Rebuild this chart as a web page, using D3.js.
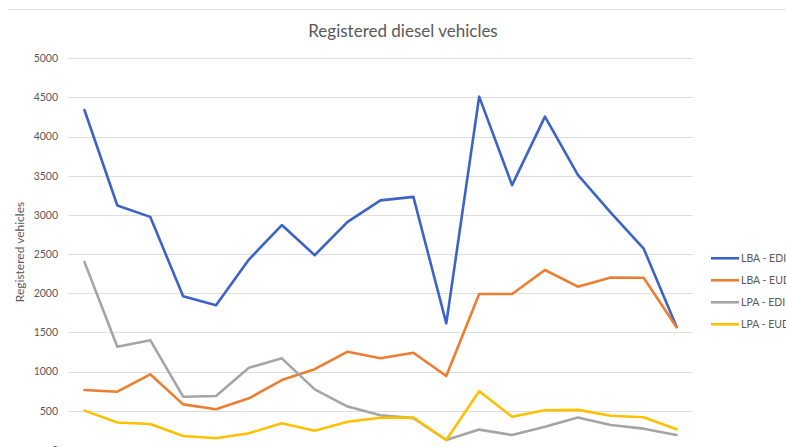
<!DOCTYPE html>
<html>
<head>
<meta charset="utf-8">
<script src="https://cdn.jsdelivr.net/npm/d3@7"></script>
<style>
  html, body { margin: 0; padding: 0; background: #ffffff; overflow: hidden; }
  svg { display: block; }
  text { font-family: Lato, "Open Sans", sans-serif; }
</style>
</head>
<body>
<svg id="chart" width="786" height="447"></svg>
<script>
const categories = ["1","2","3","4","5","6","7","8","9","10","11","12","13","14","15","16","17","18","19"];
const seriesNames = ["LBA - EDI", "LBA - EUD", "LPA - EDI", "LPA - EUD"];
const lbaEdi = [4340, 3120, 2975, 1960, 1845, 2430, 2870, 2485, 2910, 3185, 3230, 1615, 4510, 3380, 4255, 3510, 3030, 2570, 1570];
const lbaEud = [763, 742, 964, 580, 517, 657, 891, 1030, 1253, 1170, 1240, 942, 1989, 1989, 2296, 2083, 2200, 2198, 1565];
const lpaEdi = [2400, 1315, 1400, 678, 687, 1048, 1168, 772, 552, 440, 405, 125, 258, 189, 295, 413, 317, 270, 189];
const lpaEud = [500, 349, 329, 176, 147, 211, 338, 242, 359, 410, 412, 125, 748, 423, 505, 510, 434, 415, 262];
const yTicks = [0, 500, 1000, 1500, 2000, 2500, 3000, 3500, 4000, 4500, 5000];
const colors = ["#3d63c9", "#ed7d31", "#a5a5a5", "#ffc000"];
const title = "Registered diesel vehicles";
const yLabel = "Registered vehicles";

const allSeries = [lbaEdi, lbaEud, lpaEdi, lpaEud];
const svg = d3.select("#chart");

const plotLeft = 68, plotRight = 693, plotTop = 58.3, plotBottom = 449.8;
const x = d3.scaleBand().domain(categories).range([plotLeft, plotRight]);
const cx = c => x(c) + x.bandwidth() / 2;
const y = d3.scaleLinear().domain([0, 5000]).range([plotBottom, plotTop]);

// top border line
svg.append("line").attr("x1", 8).attr("x2", 786).attr("y1", 9.5).attr("y2", 9.5)
  .attr("stroke", "#e3e3e3").attr("stroke-width", 1);

// title
svg.append("text").attr("x", 403).attr("y", 37).attr("text-anchor", "middle")
  .attr("font-size", 17).attr("fill", "#595959").text(title);

// gridlines
svg.append("g").selectAll("line").data(yTicks).join("line")
  .attr("x1", plotLeft).attr("x2", plotRight)
  .attr("y1", d => Math.round(y(d)) + 0.5).attr("y2", d => Math.round(y(d)) + 0.5)
  .attr("stroke", "#dedede").attr("stroke-width", 1);

// y axis labels
const yAxis = d3.axisLeft(y).tickValues(yTicks).tickSize(0).tickPadding(10).tickFormat(d3.format("d"));
const ga = svg.append("g").attr("transform", `translate(${plotLeft},0)`).call(yAxis);
ga.select(".domain").remove();
ga.selectAll("text").attr("font-size", 10.5).attr("fill", "#595959")
  .attr("font-family", "Lato, 'Open Sans', sans-serif");

// y label
svg.append("text").attr("transform", `translate(24,252) rotate(-90)`)
  .attr("text-anchor", "middle").attr("font-size", 12).attr("fill", "#595959").text(yLabel);

// lines
const line = d3.line().x((d, i) => cx(categories[i])).y(d => y(d));
allSeries.forEach((s, i) => {
  svg.append("path").datum(s).attr("d", line)
    .attr("fill", "none").attr("stroke", colors[i]).attr("stroke-width", 2.6)
    .attr("stroke-linejoin", "round").attr("stroke-linecap", "round");
});

// legend
const lg = svg.append("g");
seriesNames.forEach((name, i) => {
  const ly = 258.3 + i * 22;
  lg.append("line").attr("x1", 711).attr("x2", 739).attr("y1", ly).attr("y2", ly)
    .attr("stroke", colors[i]).attr("stroke-width", 2.6);
  lg.append("text").attr("x", 741).attr("y", ly + 3.5).attr("font-size", 10.5)
    .attr("fill", "#595959").text(name);
});
</script>
</body>
</html>
